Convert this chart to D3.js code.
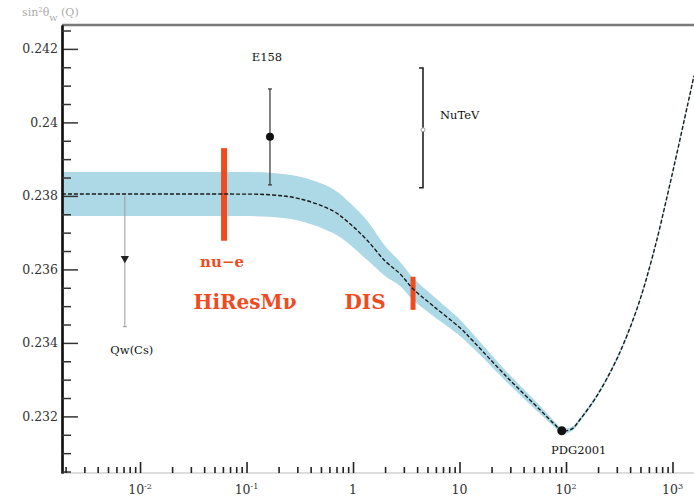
<!DOCTYPE html>
<html>
<head>
<meta charset="utf-8">
<script src="https://cdn.jsdelivr.net/npm/d3@7"></script>
<style>
body { margin: 0; background: #fff; }
svg { display: block; font-family: "DejaVu Serif", "Liberation Serif", serif; }
</style>
</head>
<body>
<svg id="chart" width="694" height="499"></svg>
<script>
// Running of sin^2(theta_W) with its uncertainty band
var curveQ   = [0.00185, 0.0124, 0.070, 0.166, 0.318, 0.649, 0.937, 1.35, 2.0, 2.76, 3.66, 5.63, 10.1, 13.4, 27.9, 57.0, 78.9, 91.19, 113.8, 135, 195, 301, 464, 656, 948, 1592];
var curveS2  = [0.23805, 0.23805, 0.23805, 0.23803, 0.23792, 0.23759, 0.23724, 0.2368, 0.23623, 0.23588, 0.23547, 0.23501, 0.23441, 0.23405, 0.23307, 0.23218, 0.23177, 0.23161, 0.23166, 0.23191, 0.23256, 0.23357, 0.23493, 0.2364, 0.23833, 0.24127];
var curveErr = [0.0006, 0.0006, 0.0006, 0.0006, 0.0006, 0.0006, 0.00057, 0.00054, 0.00041, 0.00033, 0.0003, 0.00027, 0.00022, 0.00019, 0.00014, 0.00011, 0.00008, 0.00008, 0.00006, 0.00005, 0.00005, 0.00005, 0.00005, 0.00005, 0.00005, 0.00005];

// existing measurements
var expNames = ["Qw(Cs)", "E158", "NuTeV", "PDG2001"];
var expQ     = [0.0072, 0.166, 4.54, 91.19];
var expS2    = [0.2363, 0.23961, 0.2398, 0.23161];
var expLo    = [0.23444, 0.2383, 0.23822, 0.23161];
var expHi    = [0.2380, 0.24091, 0.24148, 0.23161];

// proposed measurements (red bars)
var futNames = ["nu\u2212e", "DIS"];
var futQ     = [0.0615, 3.66];
var futS2    = [0.23804, 0.23535];
var futErr   = [0.00126, 0.00045];

// axis ticks
var yMajor = [0.232, 0.234, 0.236, 0.238, 0.24, 0.242];
var yMinorStep = 0.0005;
var xDomain = [0.00185, 1592];
var yDomain = [0.23046, 0.24265];

var svg = d3.select('#chart'),
    pLeft = 62, pRight = 694, pTop = 25, pBottom = 473,
    red = '#ee4b1f';

var x = d3.scaleLog().domain(xDomain).range([pLeft, pRight]);
var y = d3.scaleLinear().domain(yDomain).range([pBottom, pTop]);

svg.append('rect').attr('width', 694).attr('height', 499).attr('fill', '#fff');

svg.append('clipPath').attr('id', 'plot')
    .append('rect').attr('x', pLeft).attr('y', pTop)
    .attr('width', pRight - pLeft).attr('height', pBottom - pTop);

var curve = curveQ.map(function(q, i) {
    return {q: q, s: curveS2[i], e: curveErr[i]};
});

var g = svg.append('g').attr('clip-path', 'url(#plot)');

// uncertainty band
var band = d3.area()
    .x(function(d) { return x(d.q); })
    .y0(function(d) { return y(d.s - d.e); })
    .y1(function(d) { return y(d.s + d.e); })
    .curve(d3.curveCatmullRom);
g.append('path').datum(curve)
    .attr('d', band)
    .attr('fill', '#add8e6');

// red bars for the proposed measurements
futQ.forEach(function(q, i) {
    g.append('line')
        .attr('x1', x(q)).attr('x2', x(q))
        .attr('y1', y(futS2[i] + futErr[i]))
        .attr('y2', y(futS2[i] - futErr[i]))
        .attr('stroke', red)
        .attr('stroke-width', i == 0 ? 6 : 5);
});

// central curve
var line = d3.line()
    .x(function(d) { return x(d.q); })
    .y(function(d) { return y(d.s); })
    .curve(d3.curveCatmullRom);
g.append('path').datum(curve)
    .attr('d', line)
    .attr('fill', 'none')
    .attr('stroke', '#1a1a1a')
    .attr('stroke-width', 1.4)
    .attr('stroke-dasharray', '4,2');

// frame
svg.append('line').attr('x1', pLeft).attr('x2', pRight).attr('y1', pTop).attr('y2', pTop)
    .attr('stroke', '#7a7a7a').attr('stroke-width', 2.5);
svg.append('line').attr('x1', pLeft).attr('x2', pRight).attr('y1', pBottom).attr('y2', pBottom)
    .attr('stroke', '#bbb').attr('stroke-width', 1);

// y axis, ticks pointing inward
var yMinor = [];
for (var k = Math.ceil(yDomain[0] / yMinorStep); k <= Math.floor(yDomain[1] / yMinorStep); k++) {
    if (k % 4 != 0) yMinor.push(k * yMinorStep);
}
var yAx = svg.append('g').attr('transform', 'translate(' + pLeft + ',0)');
yAx.call(d3.axisLeft(y).tickValues(yMajor).tickSizeInner(-16).tickSizeOuter(0).tickPadding(4)
    .tickFormat(function(d) { return String(+d.toFixed(3)); }));
yAx.append('g').call(d3.axisLeft(y).tickValues(yMinor).tickSizeInner(-9).tickSizeOuter(0).tickFormat(''));
yAx.selectAll('.domain').attr('stroke', '#111').attr('stroke-width', 2.2);
yAx.selectAll('.tick line').attr('stroke', '#333').attr('stroke-width', 1.5);
yAx.selectAll('text').attr('font-size', 12.5).attr('fill', '#333')
    .attr('font-family', '"DejaVu Serif", serif');

// x axis (log), ticks pointing inward
var xAll = x.ticks();
var isDecade = function(v) {
    var l = Math.log10(v);
    return Math.abs(l - Math.round(l)) < 1e-9;
};
var xMajor = xAll.filter(isDecade);
var xMinor = xAll.filter(function(v) { return !isDecade(v); });
var xAx = svg.append('g').attr('transform', 'translate(0,' + pBottom + ')');
xAx.call(d3.axisBottom(x).tickValues(xMajor).tickSizeInner(-11).tickSizeOuter(0).tickPadding(10)
    .tickFormat(''));
xAx.append('g').call(d3.axisBottom(x).tickValues(xMinor).tickSizeInner(-6).tickSizeOuter(0).tickFormat(''));
xAx.selectAll('.domain').remove();
xAx.selectAll('.tick line').attr('stroke', '#222').attr('stroke-width', 1.6);

// decade labels with superscripts
xMajor.forEach(function(v) {
    var e = Math.round(Math.log10(v));
    var t = svg.append('text')
        .attr('x', x(v)).attr('y', 494)
        .attr('text-anchor', 'middle')
        .attr('font-size', 12.5).attr('fill', '#333');
    if (e == 0) {
        t.text('1');
    } else if (e == 1) {
        t.text('10');
    } else {
        t.append('tspan').text('10');
        t.append('tspan').attr('dy', -5).attr('font-size', 8).text(e);
    }
});

// title
var title = svg.append('text').attr('x', 22).attr('y', 16)
    .attr('font-size', 11).attr('fill', '#aaa');
title.append('tspan').text('sin');
title.append('tspan').attr('dy', -4).attr('font-size', 7).text('2');
title.append('tspan').attr('dy', 4).text('\u03b8');
title.append('tspan').attr('dy', 5).attr('font-size', 8).text('W');
title.append('tspan').attr('dy', -5).text(' (Q)');

// measurement error bars and markers
var pts = svg.append('g');
// Qw(Cs)
var i0 = 0;
pts.append('line')
    .attr('x1', x(expQ[i0])).attr('x2', x(expQ[i0]))
    .attr('y1', y(expHi[i0])).attr('y2', y(expLo[i0]))
    .attr('stroke', '#999').attr('stroke-width', 1);
pts.append('line')
    .attr('x1', x(expQ[i0]) - 2).attr('x2', x(expQ[i0]) + 2)
    .attr('y1', y(expLo[i0])).attr('y2', y(expLo[i0]))
    .attr('stroke', '#999').attr('stroke-width', 1);
pts.append('path')
    .attr('d', d3.symbol(d3.symbolTriangle, 30)())
    .attr('transform', 'translate(' + x(expQ[i0]) + ',' + y(expS2[i0]) + ') rotate(180)')
    .attr('fill', '#222');

// E158
var i1 = 1;
pts.append('line')
    .attr('x1', x(expQ[i1])).attr('x2', x(expQ[i1]))
    .attr('y1', y(expHi[i1])).attr('y2', y(expLo[i1]))
    .attr('stroke', '#333').attr('stroke-width', 1.2);
[expHi[i1], expLo[i1]].forEach(function(v) {
    pts.append('line')
        .attr('x1', x(expQ[i1]) - 2).attr('x2', x(expQ[i1]) + 2)
        .attr('y1', y(v)).attr('y2', y(v))
        .attr('stroke', '#333').attr('stroke-width', 1.2);
});
pts.append('circle')
    .attr('cx', x(expQ[i1])).attr('cy', y(expS2[i1])).attr('r', 4)
    .attr('fill', '#111');

// NuTeV bracket
var i2 = 2, nx = x(expQ[i2]);
pts.append('path')
    .attr('d', 'M' + (nx - 4) + ',' + y(expHi[i2]) + 'H' + nx + 'V' + y(expLo[i2]) + 'H' + (nx - 4))
    .attr('fill', 'none').attr('stroke', '#222').attr('stroke-width', 1.6);
pts.append('circle')
    .attr('cx', nx).attr('cy', y(expS2[i2])).attr('r', 2)
    .attr('fill', '#fff').attr('stroke', '#999').attr('stroke-width', 1);

// PDG2001
var i3 = 3;
pts.append('circle')
    .attr('cx', x(expQ[i3])).attr('cy', y(expS2[i3])).attr('r', 4.5)
    .attr('fill', '#111');

// labels
function label(str, px, py, size, color, bold, anchor) {
    return svg.append('text')
        .attr('x', px).attr('y', py)
        .attr('dy', '0.35em')
        .attr('text-anchor', anchor || 'middle')
        .attr('font-size', size)
        .attr('font-weight', bold ? 'bold' : 'normal')
        .attr('fill', color)
        .text(str);
}
label(expNames[0], x(expQ[0]) + 7, y(expLo[0]) + 23, 11.5, '#111');
label(expNames[1], x(expQ[1]) - 3, y(expHi[1]) - 32, 11.5, '#111');
label(expNames[2], nx + 17, y(expS2[2]) - 15, 11.5, '#111', false, 'start');
label(expNames[3], x(expQ[3]) + 17, y(expS2[3]) + 19, 11.5, '#111');

var nuX = x(futQ[0]), nuBottom = y(futS2[0] - futErr[0]);
label(futNames[0], nuX - 2, nuBottom + 21, 15, red, true);
label('HiResM\u03bd', nuX + 21, nuBottom + 61, 20, red, true);
label(futNames[1], x(futQ[1]) - 48, y(futS2[1] - futErr[1]) - 8, 20, red, true);
</script>
</body>
</html>
